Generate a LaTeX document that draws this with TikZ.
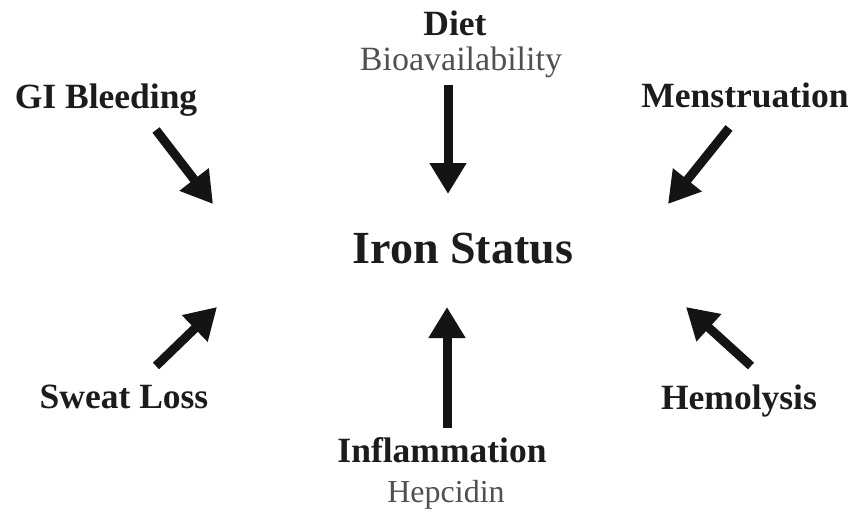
\documentclass[tikz,border=0pt]{standalone}
\usepackage{fontspec}
\setmainfont{Liberation Serif}
\usetikzlibrary{arrows.meta}

\definecolor{txt}{HTML}{1C1C1C}
\definecolor{subtxt}{HTML}{505050}
\definecolor{arr}{HTML}{141414}

\begin{document}
\begin{tikzpicture}[x=1pt,y=-1pt,
    lbl/.style={font=\fontsize{35.5}{40}\selectfont\bfseries, text=txt, inner sep=0pt, anchor=base},
    sub/.style={font=\fontsize{34}{38}\selectfont, text=subtxt, inner sep=0pt, anchor=base},
    push/.style={draw=arr, line width=9pt, -{Triangle[length=31pt,width=35pt]}}]
    \useasboundingbox (0,0) rectangle (854,514);

    % Centre
    \node[lbl, font=\fontsize{46}{50}\selectfont\bfseries] (iron) at (463,263) {Iron Status};

    % Factors -- top row
    \node[lbl] (diet) at (455,35) {Diet};
    \node[sub] (bio) at (461,70) {Bioavailability};
    \node[lbl] (gi) at (106,108) {GI Bleeding};
    \node[lbl] (mens) at (745,107) {Menstruation};

    % Factors -- bottom row
    \node[lbl] (sweat) at (124,408) {Sweat Loss};
    \node[lbl] (hemo) at (739,409) {Hemolysis};
    \node[lbl] (infl) at (442,462) {Inflammation};
    \node[sub, font=\fontsize{32}{36}\selectfont] (hep) at (446,502) {Hepcidin};

    % Arrow ends
    \coordinate (dietT) at (448,85);   \coordinate (dietH) at (448,194);
    \coordinate (giT) at (156,130);    \coordinate (giH) at (213,204);
    \coordinate (mensT) at (729,128);  \coordinate (mensH) at (668,204);
    \coordinate (sweatT) at (156,366); \coordinate (sweatH) at (217,307);
    \coordinate (hemoT) at (751,366);  \coordinate (hemoH) at (686,307);
    \coordinate (inflT) at (447,428);  \coordinate (inflH) at (447,307);

    % Arrows
    \draw[push] (dietT) -- (dietH);
    \draw[push] (giT) -- (giH);
    \draw[push] (mensT) -- (mensH);
    \draw[push] (sweatT) -- (sweatH);
    \draw[push] (hemoT) -- (hemoH);
    \draw[push] (inflT) -- (inflH);
\end{tikzpicture}
\end{document}
